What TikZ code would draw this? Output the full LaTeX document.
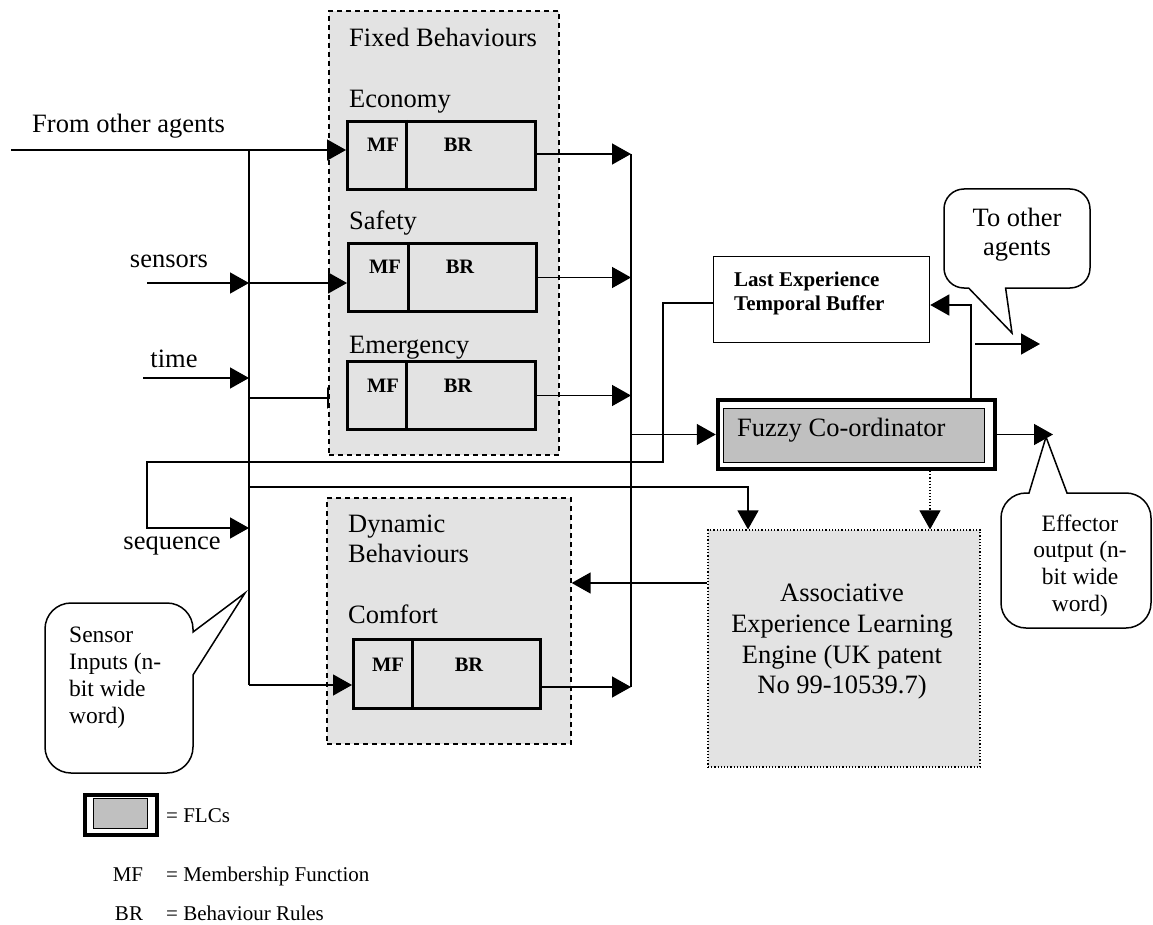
\documentclass[tikz,border=0pt]{standalone}
\usepackage{fontspec}
\setmainfont{Liberation Serif}
\usetikzlibrary{arrows.meta}
\pgfdeclarelayer{under}
\pgfsetlayers{under,main}
\definecolor{grpgray}{HTML}{E3E3E3}
\definecolor{flcgray}{HTML}{C0C0C0}
\begin{document}
\begin{tikzpicture}[x=1pt,y=-1pt,
  wire/.style={line width=1.4pt},
  arr/.style={wire,-{Triangle[length=19pt,width=21pt]}},
  grpbox/.style={draw,fill=grpgray,line width=1.3pt,dash pattern=on 5pt off 4pt,inner sep=0pt},
  behbox/.style={draw,fill=grpgray,line width=3pt,inner sep=0pt,minimum width=188pt,minimum height=68pt},
  lbl/.style={inner sep=0pt,font=\fontsize{26.5}{30.5}\selectfont},
  mflbl/.style={inner sep=0pt,font=\bfseries\fontsize{20.5}{24}\selectfont,anchor=base},
  letbl/.style={inner sep=0pt,font=\bfseries\fontsize{21}{24}\selectfont,anchor=base west},
  leg/.style={inner sep=0pt,font=\fontsize{21}{24}\selectfont},
  call/.style={line width=1.5pt,fill=white},
  ctext/.style={inner sep=0pt,font=\fontsize{23.5}{27}\selectfont,anchor=base}
]
\useasboundingbox (0,0) rectangle (1153,925);

% groups
\node[grpbox,minimum width=230pt,minimum height=444pt] (fixed) at (444,233) {};
\node[grpbox,minimum width=244pt,minimum height=246pt] (dyn) at (449,621) {};

% behaviour boxes
\node[behbox] (econ) at (441.5,155.5) {};
\node[behbox] (safe) at (442.5,277.5) {};
\node[behbox] (emer) at (441.5,395.5) {};
\node[behbox,minimum width=187pt,minimum height=69pt] (comf) at (447,674) {};
\draw[line width=3pt] (406,0 |- econ.north) -- (406,0 |- econ.south);
\draw[line width=3pt] (408,0 |- safe.north) -- (408,0 |- safe.south);
\draw[line width=3pt] (406,0 |- emer.north) -- (406,0 |- emer.south);
\draw[line width=3pt] (412,0 |- comf.north) -- (412,0 |- comf.south);

\node[mflbl] (econmf) at (383,152) {MF};
\node[mflbl] (econbr) at (458,152) {BR};
\node[mflbl] (safemf) at (385,273) {MF};
\node[mflbl] (safebr) at (460,273) {BR};
\node[mflbl] (emermf) at (383,392) {MF};
\node[mflbl] (emerbr) at (458,392) {BR};
\node[mflbl] (comfmf) at (388,671) {MF};
\node[mflbl] (comfbr) at (469,671) {BR};

% labels
\node[lbl,anchor=base west] (fixedlbl) at (349,47) {Fixed Behaviours};
\node[lbl,anchor=base west] (econlbl) at (349,108) {Economy};
\node[lbl,anchor=base west] (safelbl) at (349,230) {Safety};
\node[lbl,anchor=base west] (emerlbl) at (349,353) {Emergency};
\node[lbl,anchor=base west] (dynlbl1) at (348,532) {Dynamic};
\node[lbl,anchor=base west] (dynlbl2) at (348,562) {Behaviours};
\node[lbl,anchor=base west] (comflbl) at (348,623) {Comfort};
\node[lbl,anchor=base west] (fromlbl) at (32,133) {From other agents};
\node[lbl,anchor=base] (senslbl) at (169,268) {sensors};
\node[lbl,anchor=base] (timelbl) at (174,367) {time};
\node[lbl,anchor=base] (seqlbl) at (172,549) {sequence};

% fuzzy co-ordinator
\node[draw,line width=4.5pt,fill=white,minimum width=277pt,minimum height=69pt,inner sep=0pt] (fc) at (856.5,434.5) {};
\node[draw,line width=1.5pt,fill=flcgray,minimum width=261pt,minimum height=54pt,inner sep=0pt] (fcin) at (854,435.5) {};
\node[lbl,anchor=base west] (fctext) at (737,436) {Fuzzy Co-ordinator};

% last experience buffer
\node[draw,line width=1.5pt,fill=white,minimum width=216pt,minimum height=86pt,inner sep=0pt] (letb) at (821.5,299.5) {};
\node[letbl] (letb1) at (734,286) {Last Experience};
\node[letbl] (letb2) at (734,310) {Temporal Buffer};

% learning engine
\node[draw,dotted,line width=1.2pt,fill=grpgray,minimum width=272pt,minimum height=237pt,inner sep=0pt] (aele) at (844,648.5) {};
\node[lbl,anchor=base] (ae1) at (842,601) {Associative};
\node[lbl,anchor=base] (ae2) at (842,632) {Experience Learning};
\node[lbl,anchor=base] (ae3) at (842,663) {Engine (UK patent};
\node[lbl,anchor=base] (ae4) at (842,693) {No 99-10539.7)};

% input connectors
\coordinate (fromS) at (11,150);
\coordinate (busT) at (249,150);
\coordinate (busB) at (249,685);
\draw[arr] (fromS) -- (econ.west |- fromS);
\draw[wire] (busT) -- (busB);
\draw[arr] (busB) -- (comf.west |- busB);
\coordinate (sensS) at (147,283);
\draw[arr] (sensS) -- (sensS -| busT);
\draw[arr] (sensS -| busT) -- (safe.west |- sensS);
\coordinate (timeS) at (143,378);
\draw[arr] (timeS) -- (timeS -| busT);
\begin{pgfonlayer}{under}
\coordinate (emS) at (249,398);
\draw[arr] (emS) -- (emer.west |- emS);
\end{pgfonlayer}

% output bus
\coordinate (rbT) at (631,154);
\coordinate (rbB) at (631,687);
\draw[wire] (rbT) -- (rbB);
\draw[arr] (econ.east |- rbT) -- (rbT);
\draw[arr] (safe.east) -- (safe.east -| rbT);
\draw[arr] (emer.east) -- (emer.east -| rbT);
\draw[arr] (comf.east |- rbB) -- (rbB);
\draw[arr] (fc.west -| rbT) -- (fc.west);

% sequence loop
\coordinate (sqA) at (663,303);
\coordinate (sqB) at (663,462);
\coordinate (sqC) at (147,462);
\coordinate (sqD) at (147,528);
\draw[arr] (letb.west |- sqA) -- (sqA) -- (sqB) -- (sqC) -- (sqD) -- (sqD -| busT);

% to learning engine
\coordinate (aeTap) at (249,487);
\coordinate (aeCor) at (748,487);
\draw[arr] (aeTap) -- (aeCor) -- (aeCor |- aele.north);
\coordinate (dotX) at (930,500);
\draw[arr,line width=1.1pt,dotted] (fc.south -| dotX) -- (aele.north -| dotX);
\coordinate (aeOut) at (708,583);
\draw[arr] (aele.west |- aeOut) -- (dyn.east |- aeOut);

% feedback and outputs
\coordinate (fbC) at (971,305);
\draw[arr] (fbC |- fc.north) -- (fbC) -- (letb.east |- fbC);
\coordinate (toA) at (975,344);
\coordinate (toB) at (1040,344);
\draw[arr] (toA) -- (toB);
\coordinate (effT) at (1053,435);
\draw[arr] (fc.east) -- (fc.east -| effT);

% callouts
\draw[call] (1005.6,288) -- (1070,288) arc (90:0:20) -- (1090,209) arc (0:-90:20)
  -- (964,189) arc (-90:-180:20) -- (944,268) arc (180:90:20) -- (968.6,288) -- (1012,333) -- cycle;
\node[lbl,anchor=base] (to1) at (1017,227) {To other};
\node[lbl,anchor=base] (to2) at (1017,256) {agents};

\draw[call] (1067,493) -- (1126,493) arc (-90:0:25) -- (1151,603) arc (0:90:25)
  -- (1026,628) arc (90:180:25) -- (1001,518) arc (180:270:25) -- (1029,493) -- (1046,437) -- cycle;
\node[ctext] (ef1) at (1080,531) {Effector};
\node[ctext] (ef2) at (1080,557) {output (n-};
\node[ctext] (ef3) at (1080,584) {bit wide};
\node[ctext] (ef4) at (1080,611) {word)};

\draw[call] (193,675) -- (193,747) arc (0:90:26) -- (71,773) arc (90:180:26)
  -- (45,629) arc (180:270:26) -- (167,603) arc (270:360:26) -- (193,632) -- (245,593) -- cycle;
\node[ctext,anchor=base west] (si1) at (69,642) {Sensor};
\node[ctext,anchor=base west] (si2) at (69,669) {Inputs (n-};
\node[ctext,anchor=base west] (si3) at (69,696) {bit wide};
\node[ctext,anchor=base west] (si4) at (69,723) {word)};

% legend
\node[draw,line width=4.5pt,fill=white,minimum width=72pt,minimum height=40pt,inner sep=0pt] (legflc) at (121,815) {};
\node[draw,line width=1.5pt,fill=flcgray,minimum width=54pt,minimum height=30pt,inner sep=0pt] (legflcin) at (120.5,813.5) {};
\node[leg,anchor=base west] (legflct) at (166,822) {= FLCs};
\node[leg,anchor=base] (legmf) at (128,881) {MF};
\node[leg,anchor=base west] (legmft) at (166,881) {= Membership Function};
\node[leg,anchor=base] (legbr) at (129,920) {BR};
\node[leg,anchor=base west] (legbrt) at (166,920) {= Behaviour Rules};
\end{tikzpicture}
\end{document}
